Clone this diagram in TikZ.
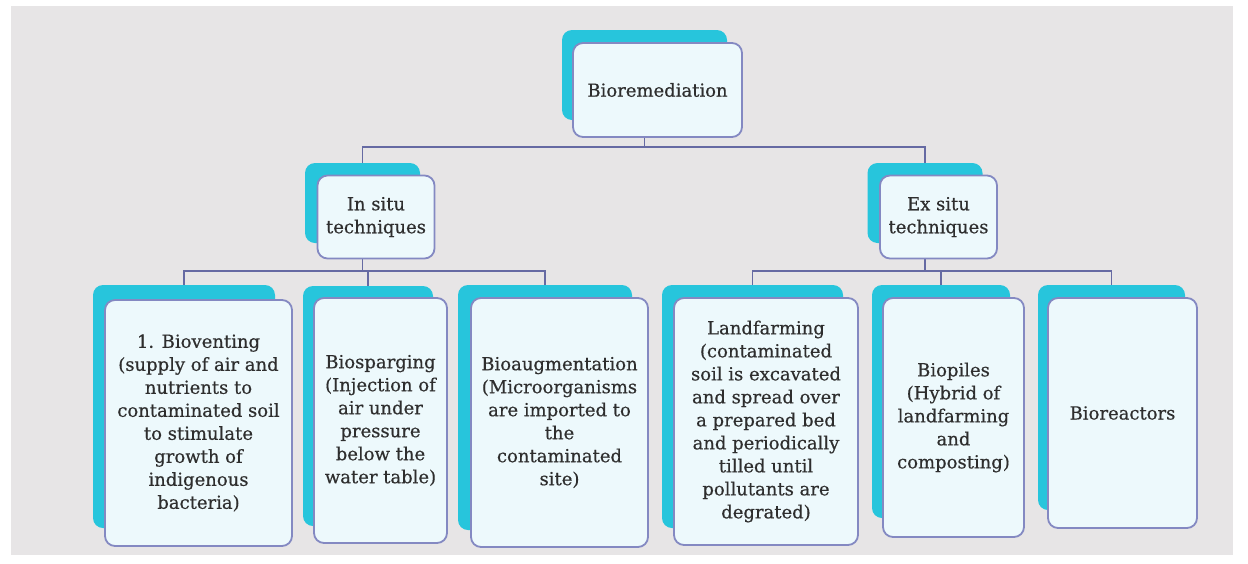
\documentclass[tikz,border=0pt]{standalone}
\usepackage{fontspec}
\setmainfont{DejaVu Serif}[FakeBold=0.5]
\usepackage{tikz}

\definecolor{bggray}{HTML}{E7E5E6}
\definecolor{tabcyan}{HTML}{27C5DC}
\definecolor{boxfill}{HTML}{EDF9FC}
\definecolor{frameblue}{HTML}{8489C2}
\definecolor{linkblue}{HTML}{666AA3}
\definecolor{txtgray}{HTML}{2E2E2E}

\begin{document}
\begin{tikzpicture}[x=1pt,y=-1pt,
  tab/.style={fill=tabcyan, rounded corners=10pt, inner sep=0pt},
  card/.style={draw=frameblue, line width=1.8pt, fill=boxfill, rounded corners=10pt,
    inner sep=0pt, align=center, text=txtgray, font=\fontsize{18}{23}\selectfont},
  link/.style={draw=linkblue, line width=1.8pt}]
\useasboundingbox (0,0) rectangle (1248,563);
\fill[bggray] (11,6) rectangle (1233,555);

% cyan tabs behind the cards
\node[tab, minimum width=165pt, minimum height=90pt] (bio) at (644.5,75) {};
\node[tab, minimum width=115pt, minimum height=80pt] (insitu) at (362.5,203) {};
\node[tab, minimum width=115pt, minimum height=80pt] (exsitu) at (925,203) {};
\node[tab, minimum width=182pt, minimum height=243pt] (vent) at (184,406.5) {};
\node[tab, minimum width=130pt, minimum height=240pt] (sparg) at (368,406) {};
\node[tab, minimum width=174pt, minimum height=245pt] (augm) at (545,407.5) {};
\node[tab, minimum width=181pt, minimum height=243pt] (landf) at (752.5,406.5) {};
\node[tab, minimum width=138pt, minimum height=233pt] (piles) at (941,401.5) {};
\node[tab, minimum width=147pt, minimum height=225pt] (react) at (1111.5,397.5) {};

% connectors
\draw[link] (bio.south) -- ++(0,27) -| (insitu.north);
\draw[link] (bio.south) -- ++(0,27) -| (exsitu.north);
\foreach \c in {vent,sparg,augm}
  \draw[link] (insitu.south) -- ++(0,28) -| (\c.north);
\foreach \c in {landf,piles,react}
  \draw[link] (exsitu.south) -- ++(0,28) -| (\c.north);

% the cards
\node[card, minimum width=169pt, minimum height=94pt] (bio-t) at (657.5,90) {Bioremediation};
\node[card, minimum width=117pt, minimum height=83pt] (insitu-t) at (376,217) {In situ\\techniques};
\node[card, minimum width=117pt, minimum height=83pt] (exsitu-t) at (938.5,217) {Ex situ\\techniques};
\node[card, minimum width=187pt, minimum height=246pt] (vent-t) at (198.5,423)
  {1. Bioventing\\(supply of air and\\nutrients to\\contaminated soil\\to stimulate\\growth of\\indigenous\\bacteria)};
\node[card, minimum width=133pt, minimum height=245pt] (sparg-t) at (380.5,420.5)
  {Biosparging\\(Injection of\\air under\\pressure\\below the\\water table)};
\node[card, minimum width=177pt, minimum height=249pt] (augm-t) at (559.5,422.5)
  {Bioaugmentation\\(Microorganisms\\are imported to\\the\\contaminated\\site)};
\node[card, minimum width=184pt, minimum height=247pt] (landf-t) at (766,421.5)
  {Landfarming\\(contaminated\\soil is excavated\\and spread over\\a prepared bed\\and periodically\\tilled until\\pollutants are\\degrated)};
\node[card, minimum width=141pt, minimum height=239pt] (piles-t) at (953.5,417.5)
  {Biopiles\\(Hybrid of\\landfarming\\and\\composting)};
\node[card, minimum width=149pt, minimum height=230pt] (react-t) at (1122.5,413) {Bioreactors};
\end{tikzpicture}
\end{document}
